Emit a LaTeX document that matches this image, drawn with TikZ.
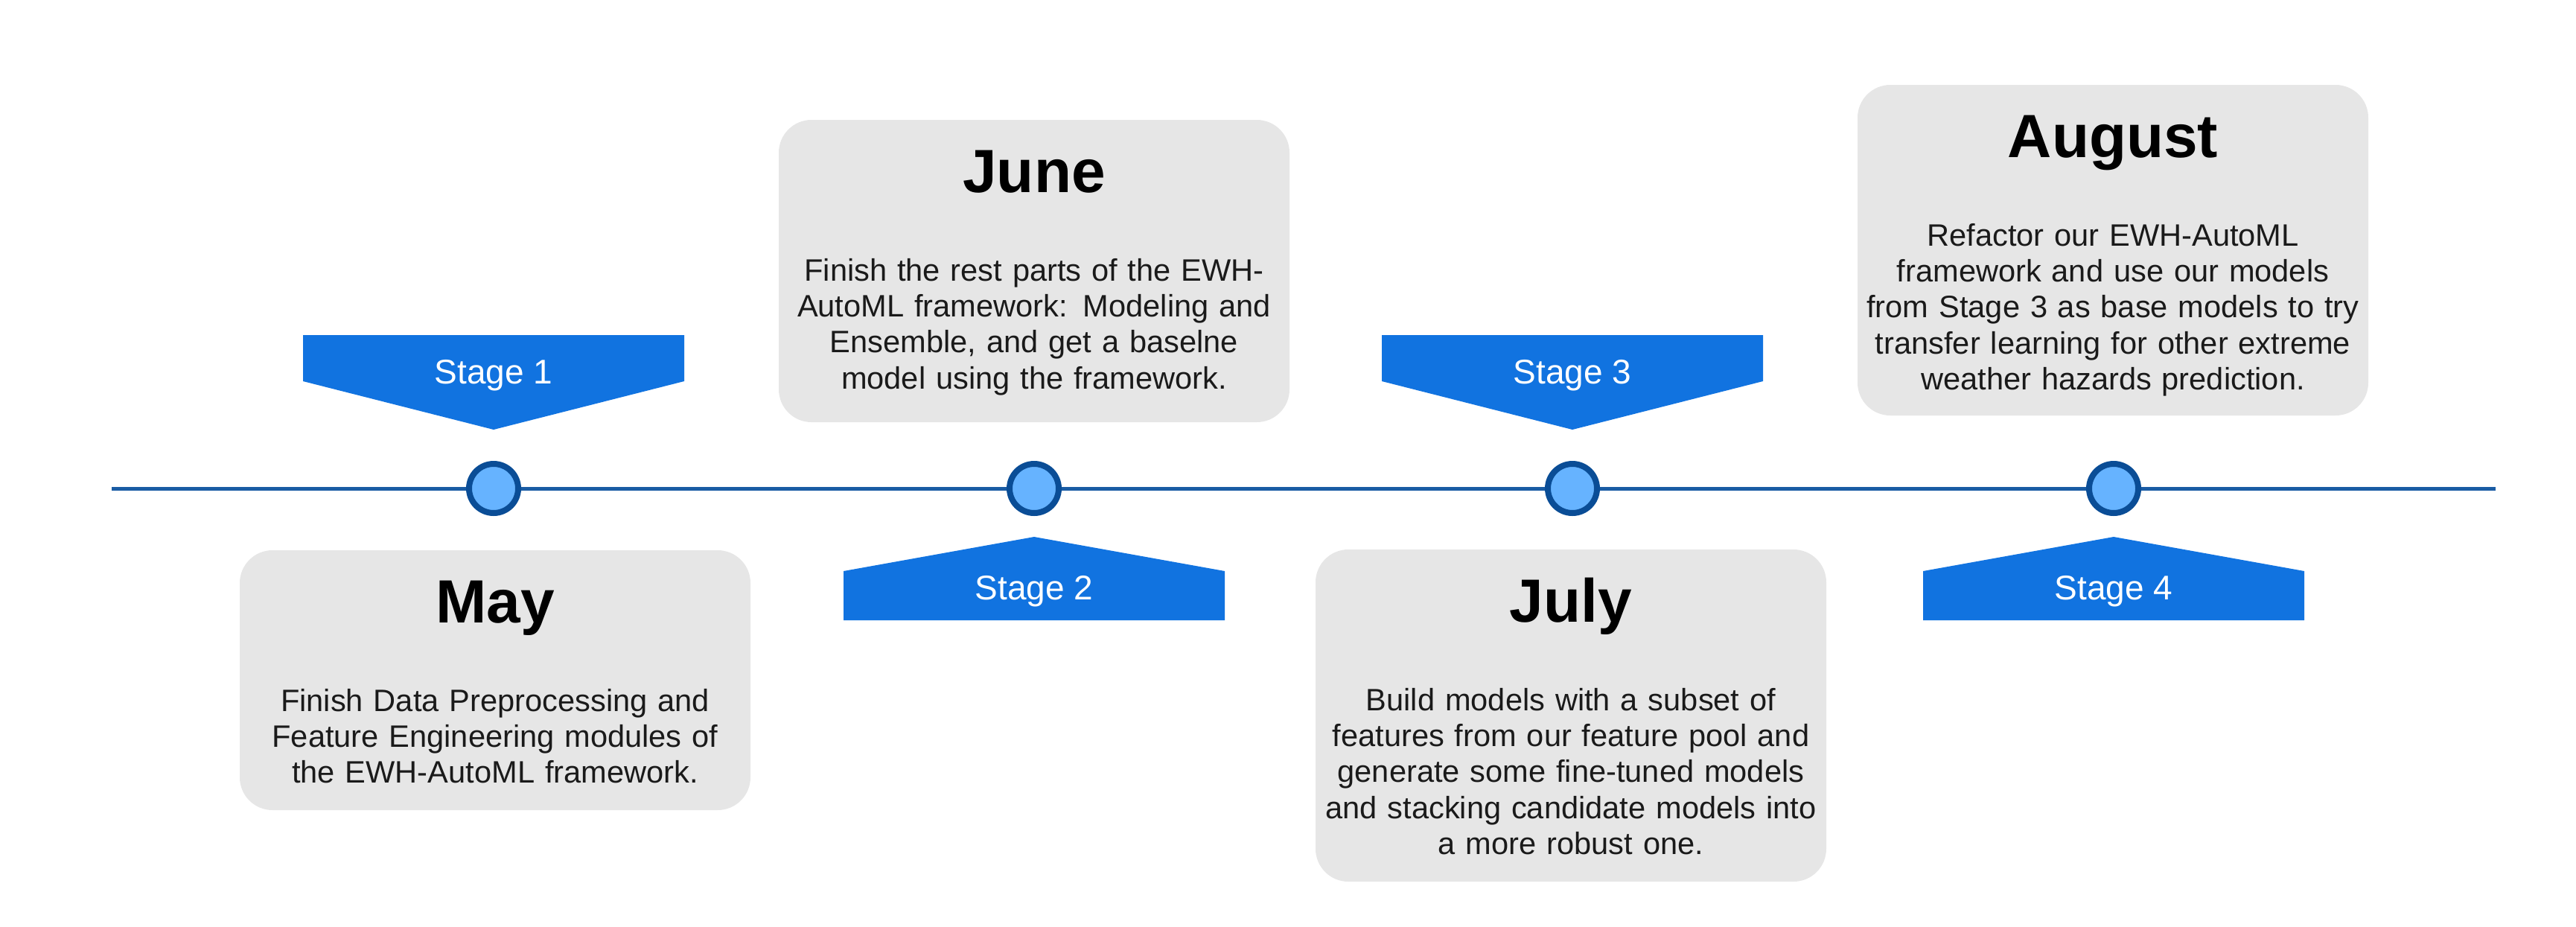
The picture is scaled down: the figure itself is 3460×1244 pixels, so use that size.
\documentclass[tikz,border=0pt]{standalone}
\usepackage{fontspec}
\setmainfont{Liberation Sans}
\usetikzlibrary{calc}
\definecolor{stageblue}{HTML}{1173E0}
\definecolor{linecol}{HTML}{1A5CA4}
\definecolor{dotfill}{HTML}{66B3FF}
\definecolor{dotline}{HTML}{0A4D96}
\definecolor{boxgray}{HTML}{E6E6E6}
\definecolor{bodytext}{HTML}{1A1A1A}
\tikzset{
  timeline/.style={draw=linecol, line width=1.25pt},
  dot/.style={circle, fill=dotfill, draw=dotline, line width=2pt, minimum size=16.5pt, inner sep=0pt},
  stagefill/.style={fill=stageblue},
  stagetext/.style={text=white, font=\fontsize{11.5}{13}\selectfont, inner sep=0pt, anchor=base},
  monthbox/.style={fill=boxgray, rounded corners=11pt, minimum width=171.5pt, inner sep=0pt, outer sep=0pt},
  monthtitle/.style={font=\fontsize{20.5}{24}\selectfont\bfseries, inner sep=0pt, anchor=base},
  monthbody/.style={font=\fontsize{10.4}{12.1}\selectfont, text=bodytext, text width=168pt, align=center, inner sep=0pt, anchor=base},
}
\begin{document}
\begin{tikzpicture}[x=0.25pt, y=-0.25pt]
\useasboundingbox (0,0) rectangle (3460,1244);
% timeline
\coordinate (ls) at (150,656);
\coordinate (le) at (3352,656);
\draw[timeline] (ls) -- (le);
% dots
\node[dot] (d1) at (663,656) {};
\node[dot] (d2) at (1389,656) {};
\node[dot] (d3) at (2112,656) {};
\node[dot] (d4) at (2839,656) {};
% stage banners
\fill[stagefill] (407,450) -- (919,450) -- (919,512) -- (663,577) -- (407,512) -- cycle;
\node[stagetext] (s1) at (663,515) {Stage 1};
\fill[stagefill] (1133,833) -- (1645,833) -- (1645,767) -- (1389,721) -- (1133,767) -- cycle;
\node[stagetext] (s2) at (1389,805) {Stage 2};
\fill[stagefill] (1856,450) -- (2368,450) -- (2368,512) -- (2112,577) -- (1856,512) -- cycle;
\node[stagetext] (s3) at (2112,515) {Stage 3};
\fill[stagefill] (2583,833) -- (3095,833) -- (3095,767) -- (2839,721) -- (2583,767) -- cycle;
\node[stagetext] (s4) at (2839,805) {Stage 4};
% month boxes
\node[monthbox, minimum height=87.25pt] (maybox) at (665,913.5) {};
\node[monthtitle] (maytitle) at ($(maybox.north)+(0,97)$) {May};
\node[monthbody] (maybody) at ($(maybox.north)+(0,216)$) {Finish Data Preprocessing and\\Feature Engineering modules of\\the EWH-AutoML framework.};

\node[monthbox, minimum height=101.5pt] (junebox) at (1389,364) {};
\node[monthtitle] (junetitle) at ($(junebox.north)+(0,97)$) {June};
\node[monthbody] (junebody) at ($(junebox.north)+(0,216)$) {Finish the rest parts of the EWH-\\AutoML framework: Modeling and\\Ensemble, and get a baselne\\model using the framework.};

\node[monthbox, minimum height=111.5pt] (julybox) at (2110,961) {};
\node[monthtitle] (julytitle) at ($(julybox.north)+(0,97)$) {July};
\node[monthbody] (julybody) at ($(julybox.north)+(0,216)$) {Build models with a subset of\\features from our feature pool and\\generate some fine-tuned models\\and stacking candidate models into\\a more robust one.};

\node[monthbox, minimum height=111pt] (augbox) at (2838,336) {};
\node[monthtitle] (augtitle) at ($(augbox.north)+(0,97)$) {August};
\node[monthbody] (augbody) at ($(augbox.north)+(0,216)$) {Refactor our EWH-AutoML\\framework and use our models\\from Stage 3 as base models to try\\transfer learning for other extreme\\weather hazards prediction.};
\end{tikzpicture}
\end{document}
